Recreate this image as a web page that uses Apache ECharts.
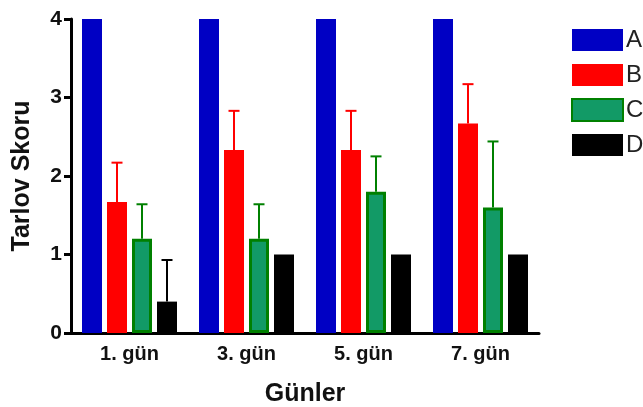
<!DOCTYPE html>
<html><head><meta charset="utf-8">
<script src="https://cdn.jsdelivr.net/npm/echarts@6/dist/echarts.min.js"></script>
<style>html,body{margin:0;padding:0;background:#fff}#c{width:643px;height:407px}</style>
</head><body><div id="c"></div>
<script>
var categories = ['1. gün', '3. gün', '5. gün', '7. gün'];
var seriesNames = ['A', 'B', 'C', 'D'];
var valuesA = [4, 4, 4, 4];
var valuesB = [1.67, 2.33, 2.33, 2.67];
var valuesC = [1.2, 1.2, 1.8, 1.6];
var valuesD = [0.4, 1.0, 1.0, 1.0];
var errB = [0.5, 0.5, 0.5, 0.5];
var errC = [0.44, 0.44, 0.45, 0.84];
var errD = [0.53, 0, 0, 0];
var yTicks = [0, 1, 2, 3, 4];

var chart = echarts.init(document.getElementById('c'));
var font = 'Liberation Sans, Arial, sans-serif';
var BW = 20, STEP = 25;

function errSeries(vals, errs, idx, color) {
  var data = vals.map(function (v, i) { return [i, v, v + errs[i]]; });
  return {
    type: 'custom', name: seriesNames[idx] + '_err', z: 3,
    renderItem: function (params, api) {
      var e = api.value(2), v = api.value(1);
      if (e <= v) return null;
      var p0 = api.coord([api.value(0), v]);
      var p1 = api.coord([api.value(0), e]);
      var x = p0[0] + (idx - 1.5) * STEP;
      var st = { stroke: color, lineWidth: 2 };
      return { type: 'group', children: [
        { type: 'line', shape: { x1: x, y1: p0[1], x2: x, y2: p1[1] }, style: st },
        { type: 'line', shape: { x1: x - 5.5, y1: p1[1], x2: x + 5.5, y2: p1[1] }, style: st }
      ]};
    },
    data: data, silent: true
  };
}

var option = {
  animation: false,
  grid: { left: 71, top: 19, width: 468, height: 314, containLabel: false, outerBoundsMode: 'none' },
  legend: {
    orient: 'vertical', left: 571, top: 28, padding: 0, itemWidth: 51, itemHeight: 22, itemGap: 11,
    data: seriesNames, icon: 'rect',
    textStyle: { fontFamily: font, fontSize: 24, color: '#222', padding: [0, 0, 0, -2] }
  },
  xAxis: {
    type: 'category', data: categories,
    name: 'Günler', nameLocation: 'middle', nameGap: 49,
    nameTextStyle: { fontFamily: font, fontSize: 25, fontWeight: 'bold', color: '#111' },
    axisLine: { lineStyle: { color: '#000', width: 3 } },
    axisTick: { alignWithLabel: true, length: 6, lineStyle: { width: 3, color: '#000' } },
    axisLabel: { fontFamily: font, fontSize: 20, fontWeight: 'bold', color: '#111', margin: 11 }
  },
  yAxis: {
    type: 'value', min: yTicks[0], max: yTicks[yTicks.length - 1], interval: 1,
    name: 'Tarlov Skoru', nameLocation: 'middle', nameGap: 36,
    nameTextStyle: { fontFamily: font, fontSize: 25, fontWeight: 'bold', color: '#111' },
    axisLine: { show: true, lineStyle: { color: '#000', width: 3 } },
    axisTick: { show: true, length: 7, lineStyle: { width: 3, color: '#000' } },
    splitLine: { show: false },
    axisLabel: { fontFamily: font, fontSize: 21, fontWeight: 'bold', color: '#111', margin: 9 }
  },
  series: [
    { name: 'A', type: 'bar', data: valuesA, barWidth: BW, barGap: '25%', itemStyle: { color: '#0000c4' } },
    { name: 'B', type: 'bar', data: valuesB, barWidth: BW, barGap: '25%', itemStyle: { color: '#ff0000' } },
    { name: 'C', type: 'bar', data: valuesC, barWidth: BW, barGap: '25%', itemStyle: { color: '#129a66', borderColor: '#008000', borderWidth: 3 } },
    { name: 'D', type: 'bar', data: valuesD, barWidth: BW, barGap: '25%', itemStyle: { color: '#000000' } },
    errSeries(valuesB, errB, 1, '#ff0000'),
    errSeries(valuesC, errC, 2, '#008000'),
    errSeries(valuesD, errD, 3, '#000000')
  ]
};
chart.setOption(option);
</script></body></html>
